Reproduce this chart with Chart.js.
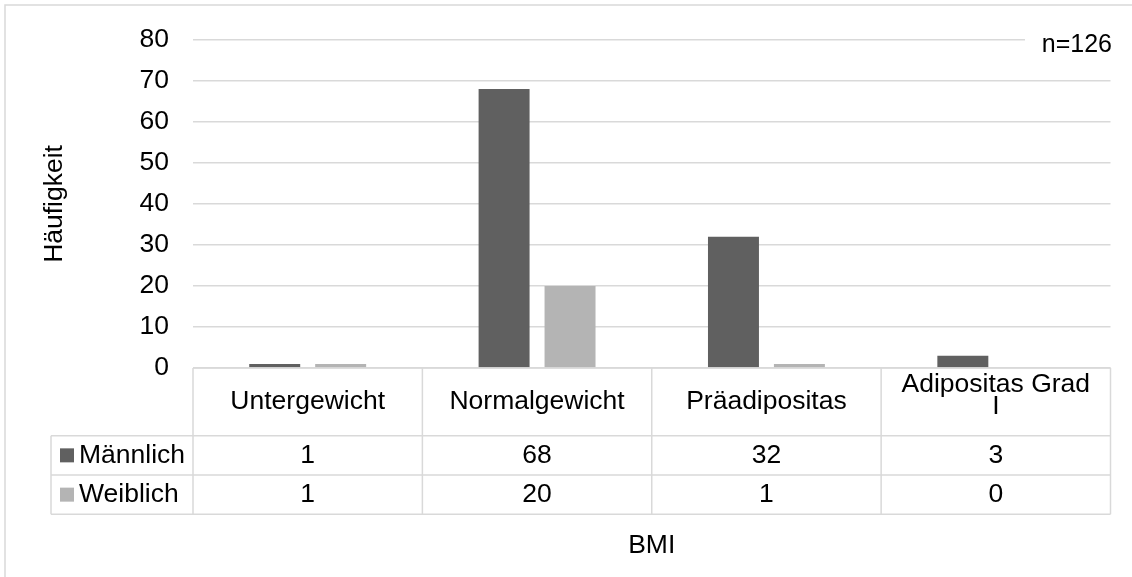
<!DOCTYPE html>
<html>
<head>
<meta charset="utf-8">
<script src="https://cdn.jsdelivr.net/npm/chart.js@4/dist/chart.umd.min.js"></script>
<style>
  html, body { margin: 0; padding: 0; background: #ffffff; }
  canvas { display: block; }
</style>
</head>
<body>
<canvas id="bmiChart" width="1132" height="577"></canvas>
<script>
// BMI categories (the last one wraps onto two lines in the table header)
const categories = ['Untergewicht', 'Normalgewicht', 'Präadipositas', ['Adipositas Grad', 'I']];
const maleCounts = [1, 68, 32, 3];
const femaleCounts = [1, 20, 1, 0];
const seriesNames = ['Männlich', 'Weiblich'];
const seriesColors = ['#606060', '#b4b4b4'];
const yTickValues = [0, 10, 20, 30, 40, 50, 60, 70, 80];
const yAxisTitle = 'Häufigkeit';
const xAxisTitle = 'BMI';
const sampleSize = 'n=126';

const FONT_FAMILY = '"Liberation Sans", Arial, sans-serif';
const FONT_SIZE = 26.5;
const TEXT_COLOR = '#000000';
const LINE_COLOR = '#d9d9d9';

// Outer frame plus the "n=126" text box
const frameAndNote = {
  id: 'frameAndNote',
  afterDraw(chart) {
    const { ctx, chartArea: a } = chart;
    ctx.save();
    ctx.strokeStyle = LINE_COLOR;
    ctx.lineWidth = 1.5;
    ctx.strokeRect(5, 5, 1140, 590);

    // text box with white fill sitting over the top gridline
    ctx.fillStyle = '#ffffff';
    ctx.fillRect(1025, 18, a.right - 1025 + 4, 44);
    ctx.fillStyle = TEXT_COLOR;
    ctx.font = '25px ' + FONT_FAMILY;
    ctx.textAlign = 'right';
    ctx.textBaseline = 'alphabetic';
    ctx.fillText(sampleSize, 1112, 52);
    ctx.restore();
  }
};

// Data table under the plot: category header row and one row per series
const dataTable = {
  id: 'dataTable',
  afterDraw(chart) {
    const { ctx, chartArea: a, scales: { x } } = chart;
    const n = chart.data.labels.length;
    const colW = (a.right - a.left) / n;
    const top = a.bottom;
    const headH = 67.7;
    const rowH = 39.3;
    const rowTops = [top + headH, top + headH + rowH];
    const tableBottom = top + headH + 2 * rowH;
    const legendLeft = 51;

    ctx.save();
    ctx.strokeStyle = LINE_COLOR;
    ctx.lineWidth = 1.5;
    ctx.beginPath();
    ctx.moveTo(a.left, top);
    ctx.lineTo(a.right, top);
    [rowTops[0], rowTops[1], tableBottom].forEach(yy => {
      ctx.moveTo(legendLeft, yy);
      ctx.lineTo(a.right, yy);
    });
    for (let i = 0; i <= n; i++) {
      const xx = a.left + i * colW;
      ctx.moveTo(xx, top);
      ctx.lineTo(xx, tableBottom);
    }
    ctx.moveTo(legendLeft, rowTops[0]);
    ctx.lineTo(legendLeft, tableBottom);
    ctx.stroke();

    ctx.fillStyle = TEXT_COLOR;
    ctx.font = FONT_SIZE + 'px ' + FONT_FAMILY;
    ctx.textAlign = 'center';
    ctx.textBaseline = 'middle';

    // header row: category names (wrapped labels sit a little high, as in the cell layout)
    const headMid = top + headH / 2;
    const lineGap = 22.5;
    chart.data.labels.forEach((label, i) => {
      const cx = x.getPixelForValue(i);
      const lines = Array.isArray(label) ? label : [label];
      const lift = lines.length > 1 ? 6 : 0;
      const startY = headMid - (lines.length - 1) * lineGap / 2 - lift;
      lines.forEach((ln, k) => ctx.fillText(ln, cx, startY + k * lineGap));
    });

    // series rows: legend key, name and values
    chart.data.datasets.forEach((ds, d) => {
      const mid = rowTops[d] + rowH / 2;
      ctx.fillStyle = ds.backgroundColor;
      ctx.fillRect(60, mid - 7, 14, 14);
      ctx.fillStyle = TEXT_COLOR;
      ctx.textAlign = 'left';
      ctx.fillText(ds.label, 79, mid);
      ctx.textAlign = 'center';
      ds.data.forEach((v, i) => {
        ctx.fillText(String(v), x.getPixelForValue(i), mid);
      });
    });
    ctx.restore();
  }
};

new Chart(document.getElementById('bmiChart'), {
  type: 'bar',
  data: {
    labels: categories,
    datasets: [
      {
        label: seriesNames[0],
        data: maleCounts,
        backgroundColor: seriesColors[0],
        categoryPercentage: 0.575,
        barPercentage: 0.773
      },
      {
        label: seriesNames[1],
        data: femaleCounts,
        backgroundColor: seriesColors[1],
        categoryPercentage: 0.575,
        barPercentage: 0.773
      }
    ]
  },
  options: {
    responsive: false,
    animation: false,
    devicePixelRatio: 1,
    layout: { padding: { top: 34, right: 21.5, bottom: 0, left: 0 } },
    plugins: {
      legend: { display: false },
      tooltip: { enabled: false }
    },
    scales: {
      x: {
        grid: { display: false },
        border: { display: false },
        ticks: { display: false },
        title: {
          display: true,
          text: xAxisTitle,
          color: TEXT_COLOR,
          font: { family: FONT_FAMILY, size: FONT_SIZE },
          padding: { top: 0, bottom: 15 }
        },
        afterFit(scale) { scale.height = 209; }
      },
      y: {
        min: 0,
        max: 80,
        afterBuildTicks(scale) {
          scale.ticks = yTickValues.map(v => ({ value: v }));
        },
        ticks: {
          padding: 24,
          color: TEXT_COLOR,
          font: { family: FONT_FAMILY, size: FONT_SIZE }
        },
        grid: { color: LINE_COLOR, lineWidth: 1.5, drawTicks: false },
        border: { display: false },
        title: {
          display: true,
          text: yAxisTitle,
          color: TEXT_COLOR,
          font: { family: FONT_FAMILY, size: FONT_SIZE },
          padding: { top: 38.5, bottom: 0 }
        },
        afterFit(scale) { scale.width = 193; }
      }
    }
  },
  plugins: [dataTable, frameAndNote]
});
</script>
</body>
</html>
